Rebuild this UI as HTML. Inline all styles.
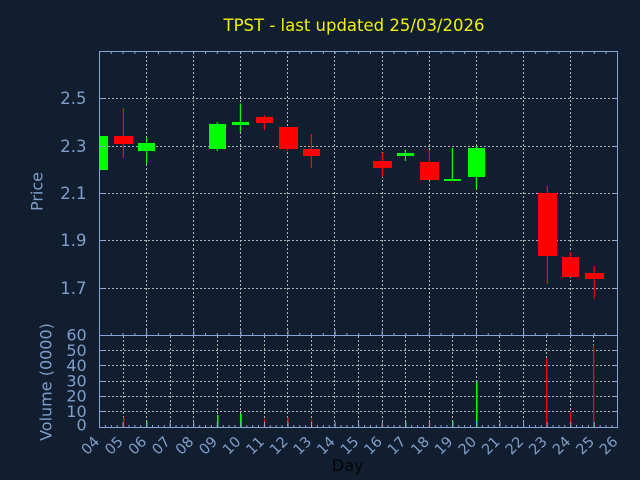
<!DOCTYPE html>
<html><head><meta charset="utf-8"><style>
html,body{margin:0;padding:0;background:#101e2f;}
svg{display:block;}
text{font-family:"DejaVu Sans","Liberation Sans",sans-serif;}
</style></head><body>
<svg width="640" height="480" viewBox="0 0 640 480" xmlns="http://www.w3.org/2000/svg">
<rect x="0" y="0" width="640" height="480" fill="#101e2f"/>
<text x="354" y="31" font-size="16.5" fill="#f2f200" text-anchor="middle">TPST - last updated 25/03/2026</text>

<!-- price grid -->
<g stroke="#b4b4b4" stroke-width="1" stroke-dasharray="2 2" fill="none">
<line x1="100" y1="98.5" x2="617" y2="98.5"/>
<line x1="100" y1="146.5" x2="617" y2="146.5"/>
<line x1="100" y1="193.5" x2="617" y2="193.5"/>
<line x1="100" y1="240.5" x2="617" y2="240.5"/>
<line x1="100" y1="288.5" x2="617" y2="288.5"/>
<line x1="146.5" y1="52" x2="146.5" y2="335"/>
<line x1="193.5" y1="52" x2="193.5" y2="335"/>
<line x1="240.5" y1="52" x2="240.5" y2="335"/>
<line x1="287.5" y1="52" x2="287.5" y2="335"/>
<line x1="334.5" y1="52" x2="334.5" y2="335"/>
<line x1="382.5" y1="52" x2="382.5" y2="335"/>
<line x1="429.5" y1="52" x2="429.5" y2="335"/>
<line x1="476.5" y1="52" x2="476.5" y2="335"/>
<line x1="523.5" y1="52" x2="523.5" y2="335"/>
<line x1="570.5" y1="52" x2="570.5" y2="335"/>
<!-- volume grid -->
<line x1="100" y1="350.5" x2="617" y2="350.5"/>
<line x1="100" y1="365.5" x2="617" y2="365.5"/>
<line x1="100" y1="381.5" x2="617" y2="381.5"/>
<line x1="100" y1="396.5" x2="617" y2="396.5"/>
<line x1="100" y1="411.5" x2="617" y2="411.5"/>
<line x1="123.5" y1="336" x2="123.5" y2="427"/>
<line x1="146.5" y1="336" x2="146.5" y2="427"/>
<line x1="170.5" y1="336" x2="170.5" y2="427"/>
<line x1="193.5" y1="336" x2="193.5" y2="427"/>
<line x1="217.5" y1="336" x2="217.5" y2="427"/>
<line x1="240.5" y1="336" x2="240.5" y2="427"/>
<line x1="264.5" y1="336" x2="264.5" y2="427"/>
<line x1="287.5" y1="336" x2="287.5" y2="427"/>
<line x1="311.5" y1="336" x2="311.5" y2="427"/>
<line x1="334.5" y1="336" x2="334.5" y2="427"/>
<line x1="358.5" y1="336" x2="358.5" y2="427"/>
<line x1="382.5" y1="336" x2="382.5" y2="427"/>
<line x1="405.5" y1="336" x2="405.5" y2="427"/>
<line x1="429.5" y1="336" x2="429.5" y2="427"/>
<line x1="452.5" y1="336" x2="452.5" y2="427"/>
<line x1="476.5" y1="336" x2="476.5" y2="427"/>
<line x1="499.5" y1="336" x2="499.5" y2="427"/>
<line x1="523.5" y1="336" x2="523.5" y2="427"/>
<line x1="546.5" y1="336" x2="546.5" y2="427"/>
<line x1="570.5" y1="336" x2="570.5" y2="427"/>
<line x1="593.5" y1="336" x2="593.5" y2="427"/>
</g>

<!-- candles -->
<g fill="#00ff00">
<rect x="99" y="136" width="9" height="34"/>
<rect x="146" y="138.3" width="1.2" height="25.4"/>
<rect x="138" y="143" width="17" height="8"/>
<rect x="216.7" y="122" width="1.2" height="29"/>
<rect x="209" y="124" width="17" height="25"/>
<rect x="239.8" y="103.3" width="1.2" height="28.4"/>
<rect x="232" y="122" width="17" height="3"/>
<rect x="404.8" y="150" width="1.2" height="11"/>
<rect x="397" y="153" width="17" height="3"/>
<rect x="451.8" y="148" width="1.2" height="32"/>
<rect x="444" y="179" width="17" height="2"/>
<rect x="475.8" y="146" width="1.2" height="43"/>
<rect x="468" y="148" width="17" height="29"/>
</g>
<g fill="#ff0000">
<rect x="122.8" y="108" width="1.2" height="50"/>
<rect x="114" y="136" width="19" height="8"/>
<rect x="263.8" y="115" width="1.2" height="15"/>
<rect x="256" y="117" width="17" height="6"/>
<rect x="287" y="127" width="1.2" height="24"/>
<rect x="279" y="127" width="19" height="22"/>
<rect x="310.8" y="134" width="1.2" height="34"/>
<rect x="303" y="149" width="17" height="7"/>
<rect x="381.8" y="153" width="1.2" height="24"/>
<rect x="373" y="161" width="19" height="7"/>
<rect x="428.8" y="150" width="1.2" height="30"/>
<rect x="420" y="162" width="19" height="18"/>
<rect x="546.8" y="186" width="1.2" height="98"/>
<rect x="538" y="193" width="19" height="63"/>
<rect x="569.8" y="252" width="1.2" height="25"/>
<rect x="562" y="257" width="17" height="20"/>
<rect x="593.6" y="266" width="1.2" height="33"/>
<rect x="585" y="273" width="19" height="6"/>
</g>

<!-- volume bars -->
<g fill="#00ff00">
<rect x="146" y="421" width="1.5" height="6.3"/>
<rect x="217" y="415" width="1.5" height="12.3"/>
<rect x="240" y="414" width="1.8" height="13.3"/>
<rect x="405" y="422.3" width="1.5" height="5"/>
<rect x="452" y="421" width="1.5" height="6.3"/>
<rect x="476" y="381.7" width="1.5" height="45.6"/>
</g>
<g fill="#ff0000">
<rect x="123" y="417.3" width="1.3" height="10"/>
<rect x="264" y="419.3" width="1.3" height="8"/>
<rect x="287.3" y="417.3" width="1.3" height="10"/>
<rect x="311" y="419.3" width="1.3" height="8"/>
<rect x="382" y="423.7" width="1.3" height="3.6"/>
<rect x="429" y="422.3" width="1.3" height="5"/>
<rect x="546" y="358" width="1.3" height="69.3"/>
<rect x="570" y="412" width="1.3" height="15.3"/>
<rect x="593" y="345" width="1.3" height="82.3"/>
</g>

<!-- frames and ticks -->
<g stroke="#87a6d6" fill="none">
<rect x="99.5" y="51.5" width="518" height="284" stroke-width="1"/>
<rect x="99.5" y="335.5" width="518" height="92" stroke-width="1"/>
<line x1="99" y1="53" x2="618" y2="53" stroke-width="2" stroke-dasharray="1 10.78"/>
<line x1="99" y1="334" x2="618" y2="334" stroke-width="2" stroke-dasharray="1 10.78"/>
<line x1="99" y1="332.5" x2="618" y2="332.5" stroke-width="5" stroke-dasharray="1 46.12"/>
<line x1="99" y1="426" x2="618" y2="426" stroke-width="2" stroke-dasharray="1 4.89"/>
<line x1="99" y1="424.5" x2="618" y2="424.5" stroke-width="5" stroke-dasharray="1 22.56"/>
<path stroke-width="1" d="M100 98.5h4M100 146.5h4M100 193.5h4M100 240.5h4M100 288.5h4M613 98.5h4M613 146.5h4M613 193.5h4M613 240.5h4M613 288.5h4M100 350.5h4M100 365.5h4M100 381.5h4M100 396.5h4M100 411.5h4M613 350.5h4M613 365.5h4M613 381.5h4M613 396.5h4M613 411.5h4"/>
</g>

<!-- y labels -->
<g font-size="16.5" fill="#7f9fcc" text-anchor="end">
<text x="86.5" y="104">2.5</text>
<text x="86.5" y="152">2.3</text>
<text x="86.5" y="199">2.1</text>
<text x="86.5" y="246">1.9</text>
<text x="86.5" y="294">1.7</text>
</g>
<g font-size="16" fill="#7f9fcc" text-anchor="end">
<text x="86.7" y="340.5">60</text>
<text x="86.7" y="356">50</text>
<text x="86.7" y="371">40</text>
<text x="86.7" y="386.5">30</text>
<text x="86.7" y="401.5">20</text>
<text x="86.7" y="417">10</text>
<text x="86.7" y="430.5">0</text>
</g>
<text transform="translate(42.7,191.5) rotate(-90)" font-size="16" fill="#7f9fcc" text-anchor="middle">Price</text>
<text transform="translate(51.5,382) rotate(-90)" font-size="16" fill="#7f9fcc" text-anchor="middle">Volume (0000)</text>

<!-- x labels -->
<g font-size="14.5" fill="#7f9fcc" text-anchor="end">
<text transform="translate(100.3,442.5) rotate(-45)">04</text>
<text transform="translate(123.9,442.5) rotate(-45)">05</text>
<text transform="translate(147.4,442.5) rotate(-45)">06</text>
<text transform="translate(171,442.5) rotate(-45)">07</text>
<text transform="translate(194.5,442.5) rotate(-45)">08</text>
<text transform="translate(218.1,442.5) rotate(-45)">09</text>
<text transform="translate(241.7,442.5) rotate(-45)">10</text>
<text transform="translate(265.2,442.5) rotate(-45)">11</text>
<text transform="translate(288.8,442.5) rotate(-45)">12</text>
<text transform="translate(312.3,442.5) rotate(-45)">13</text>
<text transform="translate(335.9,442.5) rotate(-45)">14</text>
<text transform="translate(359.5,442.5) rotate(-45)">15</text>
<text transform="translate(383,442.5) rotate(-45)">16</text>
<text transform="translate(406.6,442.5) rotate(-45)">17</text>
<text transform="translate(430.1,442.5) rotate(-45)">18</text>
<text transform="translate(453.7,442.5) rotate(-45)">19</text>
<text transform="translate(477.3,442.5) rotate(-45)">20</text>
<text transform="translate(500.8,442.5) rotate(-45)">21</text>
<text transform="translate(524.4,442.5) rotate(-45)">22</text>
<text transform="translate(547.9,442.5) rotate(-45)">23</text>
<text transform="translate(571.5,442.5) rotate(-45)">24</text>
<text transform="translate(595.1,442.5) rotate(-45)">25</text>
<text transform="translate(618.6,442.5) rotate(-45)">26</text>
</g>
<text x="347.7" y="471" font-size="16" fill="#060606" text-anchor="middle">Day</text>
</svg>
</body></html>
